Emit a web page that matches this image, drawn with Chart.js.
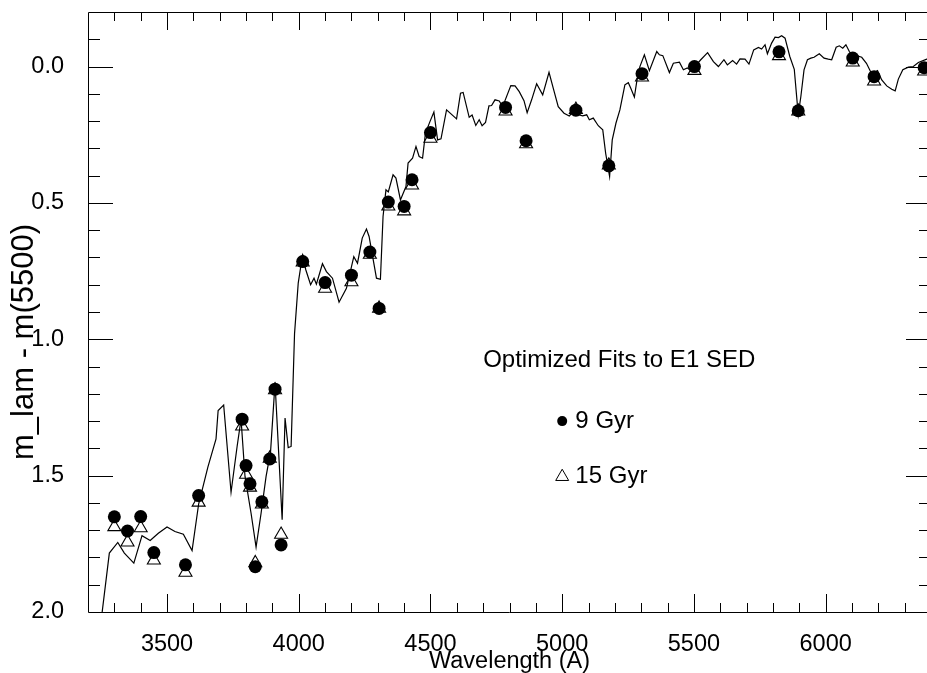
<!DOCTYPE html>
<html>
<head>
<meta charset="utf-8">
<title>Optimized Fits to E1 SED</title>
<script src="https://cdn.jsdelivr.net/npm/chart.js@4.4.1/dist/chart.umd.min.js"></script>
<style>
  html, body { margin: 0; padding: 0; background: #fff; overflow: hidden; }
  canvas { display: block; }
</style>
</head>
<body>
<!-- the right axis sits just past the window edge, as in the original plot -->
<canvas id="sed" width="931" height="673"></canvas>
<script>
// observed E1 spectrum (solid line)
const specWave = [3250, 3281, 3313, 3338, 3374, 3405, 3436, 3467, 3500, 3530, 3562, 3595, 3620, 3655, 3686, 3694,
  3715, 3743, 3766, 3781, 3796, 3819, 3838, 3857, 3876, 3893, 3910, 3937, 3948, 3960, 3971, 3984,
  3998, 4014, 4027, 4045, 4058, 4067, 4090, 4105, 4128, 4153, 4181, 4209, 4223, 4241, 4257, 4267,
  4295, 4310, 4320, 4331, 4340, 4358, 4369, 4386, 4407, 4415, 4432, 4445, 4457, 4470, 4481, 4498,
  4513, 4527, 4540, 4561, 4599, 4614, 4624, 4647, 4658, 4672, 4685, 4696, 4709, 4722, 4732, 4745,
  4761, 4774, 4805, 4821, 4837, 4855, 4867, 4884, 4903, 4926, 4950, 4966, 4985, 5007, 5027, 5042,
  5055, 5078, 5093, 5103, 5118, 5137, 5154, 5165, 5180, 5190, 5204, 5219, 5238, 5251, 5260, 5274,
  5283, 5295, 5312, 5331, 5359, 5369, 5382, 5407, 5422, 5445, 5460, 5475, 5490, 5503, 5526, 5552,
  5574, 5593, 5614, 5627, 5647, 5662, 5675, 5694, 5709, 5727, 5745, 5757, 5770, 5779, 5795, 5808,
  5821, 5833, 5846, 5864, 5881, 5890, 5896, 5906, 5918, 5931, 5944, 5956, 5976, 5994, 6010, 6023,
  6040, 6052, 6065, 6077, 6090, 6105, 6118, 6137, 6155, 6175, 6197, 6213, 6232, 6251, 6264, 6276,
  6293, 6314, 6333, 6352, 6384, 6400];
const specMag = [2.03, 1.784, 1.745, 1.784, 1.821, 1.720, 1.738, 1.711, 1.688, 1.705, 1.715, 1.775, 1.604, 1.469, 1.365, 1.261,
  1.241, 1.561, 1.393, 1.293, 1.503, 1.638, 1.762, 1.638, 1.503, 1.412, 1.160, 1.662, 1.289, 1.397, 1.393, 0.980,
  0.794, 0.693, 0.746, 0.800, 0.776, 0.798, 0.723, 0.752, 0.776, 0.864, 0.813, 0.697, 0.721, 0.629, 0.596, 0.623,
  0.776, 0.780, 0.550, 0.452, 0.460, 0.397, 0.409, 0.489, 0.440, 0.354, 0.336, 0.293, 0.330, 0.336, 0.244, 0.202,
  0.167, 0.269, 0.265, 0.159, 0.192, 0.098, 0.095, 0.186, 0.178, 0.216, 0.195, 0.217, 0.205, 0.144, 0.143, 0.122,
  0.126, 0.147, 0.070, 0.071, 0.092, 0.125, 0.169, 0.122, 0.063, 0.104, 0.021, 0.079, 0.147, 0.171, 0.181, 0.165,
  0.175, 0.181, 0.177, 0.195, 0.189, 0.217, 0.232, 0.318, 0.403, 0.269, 0.208, 0.159, 0.067, 0.059, 0.079, 0.112,
  0.055, 0.000, -0.043, 0.015, -0.055, -0.043, -0.040, 0.022, -0.012, -0.016, 0.012, 0.005, 0.015, 0.000, -0.025, -0.051,
  -0.018, 0.000, -0.025, -0.006, -0.022, -0.009, -0.028, -0.027, -0.009, -0.061, -0.070, -0.064, -0.080, -0.047, -0.086, -0.108,
  -0.106, -0.113, -0.104, -0.037, 0.010, 0.110, 0.177, 0.110, 0.012, -0.025, -0.031, -0.034, -0.047, -0.031, -0.027, -0.025,
  -0.071, -0.076, -0.067, -0.080, -0.055, -0.035, -0.040, -0.034, -0.012, 0.027, 0.015, 0.049, 0.071, 0.083, 0.089, 0.046,
  0.012, 0.002, 0.000, -0.015, -0.027, -0.030];

// model fits at the measured passbands
const fitWave = [3300, 3350, 3400, 3450, 3570, 3620, 3785, 3800, 3815, 3835, 3860, 3890, 3910, 3933, 4015, 4100, 4200,
  4270, 4305, 4340, 4400, 4430, 4500, 4785, 4863, 5052, 5177, 5303, 5502, 5823, 5896, 6103, 6184, 6374];
const fit9Gyr = [1.651, 1.703, 1.650, 1.782, 1.827, 1.573, 1.293, 1.463, 1.530, 1.834, 1.596, 1.439, 1.183, 1.754, 0.715, 0.792, 0.765,
  0.680, 0.887, 0.497, 0.513, 0.415, 0.242, 0.150, 0.272, 0.160, 0.364, 0.026, 0.000, -0.054, 0.162, -0.031, 0.037, 0.004];
const fit15Gyr = [1.688, 1.744, 1.692, 1.810, 1.855, 1.598, 1.319, 1.496, 1.543, 1.820, 1.605, 1.437, 1.186, 1.716, 0.717, 0.814, 0.790,
  0.689, 0.887, 0.512, 0.530, 0.435, 0.264, 0.164, 0.284, 0.158, 0.362, 0.039, 0.015, -0.039, 0.164, -0.016, 0.054, 0.017];

const xTicks = [3500, 4000, 4500, 5000, 5500, 6000];
const yTicks = [0.0, 0.5, 1.0, 1.5, 2.0];
const xTitle = 'Wavelength (A)';
const yTitle = 'm_lam - m(5500)';
const legendTitle = 'Optimized Fits to E1 SED';
const legendLabels = ['9 Gyr', '15 Gyr'];

const FONT = '"Liberation Sans", Arial, Helvetica, sans-serif';

function toPoints(xs, ys) {
  return xs.map((x, i) => ({ x: x, y: ys[i] }));
}

// drop the extra space chart.js keeps for overhanging end labels
function noOverhang(scale) {
  scale.paddingTop = 0;
  scale.paddingBottom = 0;
  scale.paddingLeft = 0;
  scale.paddingRight = 0;
}

// box around the plot with IDL style inward tick marks
const frameTicks = {
  id: 'frameTicks',
  afterDraw(chart) {
    const ctx = chart.ctx;
    const a = chart.chartArea;
    const xs = chart.scales.x;
    const ys = chart.scales.y;
    ctx.save();
    ctx.strokeStyle = '#000';
    ctx.lineWidth = 1;
    ctx.beginPath();
    ctx.rect(a.left + 0.5, a.top + 0.5, a.right - a.left - 1, a.bottom - a.top);
    for (let v = 3300; v < xs.max; v += 100) {
      const px = Math.round(xs.getPixelForValue(v)) + 0.5;
      const len = v % 500 === 0 ? 18 : 9;
      ctx.moveTo(px, a.bottom);
      ctx.lineTo(px, a.bottom - len);
      ctx.moveTo(px, a.top);
      ctx.lineTo(px, a.top + len);
    }
    for (let i = -1; i < 20; i++) {
      const py = Math.round(ys.getPixelForValue(i / 10)) + 0.5;
      const len = i % 5 === 0 ? 25 : 12;
      ctx.moveTo(a.left, py);
      ctx.lineTo(a.left + len, py);
      ctx.moveTo(a.right, py);
      ctx.lineTo(a.right - len, py);
    }
    ctx.stroke();

    // y title, larger than the other labels in the original
    ctx.fillStyle = '#000';
    ctx.font = '31px ' + FONT;
    ctx.textAlign = 'center';
    ctx.textBaseline = 'middle';
    ctx.translate(24, ys.getPixelForValue(1.01));
    ctx.rotate(-Math.PI / 2);
    ctx.fillText(yTitle, 0, 0);
    ctx.restore();
  }
};

// the in-plot key, placed in data coordinates
const legendNote = {
  id: 'legendNote',
  afterDatasetsDraw(chart) {
    const ctx = chart.ctx;
    const xs = chart.scales.x;
    const ys = chart.scales.y;
    ctx.save();
    ctx.fillStyle = '#000';
    ctx.strokeStyle = '#000';
    ctx.font = '24px ' + FONT;
    ctx.textBaseline = 'middle';
    ctx.textAlign = 'left';
    ctx.fillText(legendTitle, xs.getPixelForValue(4700), ys.getPixelForValue(1.076));

    const sx = xs.getPixelForValue(5000);
    const y9 = ys.getPixelForValue(1.3);
    const y15 = ys.getPixelForValue(1.504);
    ctx.beginPath();
    ctx.arc(sx, y9, 5, 0, Math.PI * 2);
    ctx.fill();

    const r = 7.5;
    ctx.lineWidth = 1;
    ctx.beginPath();
    ctx.moveTo(sx, y15 - r);
    ctx.lineTo(sx + r * Math.sin(Math.PI * 2 / 3), y15 + r / 2);
    ctx.lineTo(sx - r * Math.sin(Math.PI * 2 / 3), y15 + r / 2);
    ctx.closePath();
    ctx.stroke();

    const tx = xs.getPixelForValue(5050);
    ctx.fillText(legendLabels[0], tx, y9);
    ctx.fillText(legendLabels[1], tx, y15);
    ctx.restore();
  }
};

function drawChart() {
  const ctx = document.getElementById('sed').getContext('2d');
  new Chart(ctx, {
    type: 'scatter',
    data: {
      datasets: [
        {
          label: legendLabels[0],
          data: toPoints(fitWave, fit9Gyr),
          pointStyle: 'circle',
          pointRadius: 6.5,
          pointBackgroundColor: '#000',
          pointBorderWidth: 0,
          order: 0
        },
        {
          label: legendLabels[1],
          data: toPoints(fitWave, fit15Gyr),
          pointStyle: 'triangle',
          pointRadius: 7.5,
          pointBackgroundColor: 'rgba(0,0,0,0)',
          pointBorderColor: '#000',
          pointBorderWidth: 1.1,
          order: 1
        },
        {
          label: 'E1',
          data: toPoints(specWave, specMag),
          showLine: true,
          borderColor: '#000',
          borderWidth: 1.2,
          pointRadius: 0,
          tension: 0,
          order: 2
        }
      ]
    },
    options: {
      responsive: false,
      animation: false,
      layout: { autoPadding: false, padding: { top: 12, right: 0, bottom: 0, left: 0 } },
      plugins: {
        legend: { display: false },
        tooltip: { enabled: false }
      },
      scales: {
        x: {
          type: 'linear',
          min: 3200,
          max: 6400,
          grid: { display: false },
          border: { display: false },
          afterBuildTicks: (scale) => { scale.ticks = xTicks.map(v => ({ value: v })); },
          afterFit: (scale) => { scale.height = 61; noOverhang(scale); },
          ticks: {
            autoSkip: false,
            maxRotation: 0,
            padding: 10,
            color: '#000',
            font: { family: FONT, size: 23.5 },
            callback: (v) => String(v)
          },
          title: {
            display: true,
            text: xTitle,
            color: '#000',
            padding: 0,
            font: { family: FONT, size: 23.5, lineHeight: 1 }
          }
        },
        y: {
          type: 'linear',
          reverse: true,
          min: -0.2,
          max: 2.0,
          grid: { display: false },
          border: { display: false },
          afterBuildTicks: (scale) => { scale.ticks = yTicks.map(v => ({ value: v })); },
          afterFit: (scale) => { scale.width = 88; noOverhang(scale); },
          ticks: {
            padding: 16,
            color: '#000',
            font: { family: FONT, size: 23.5 },
            callback: (v) => Number(v).toFixed(1)
          },
          title: { display: false }
        }
      }
    },
    plugins: [frameTicks, legendNote]
  });
}

document.addEventListener('DOMContentLoaded', drawChart);
</script>
</body>
</html>
